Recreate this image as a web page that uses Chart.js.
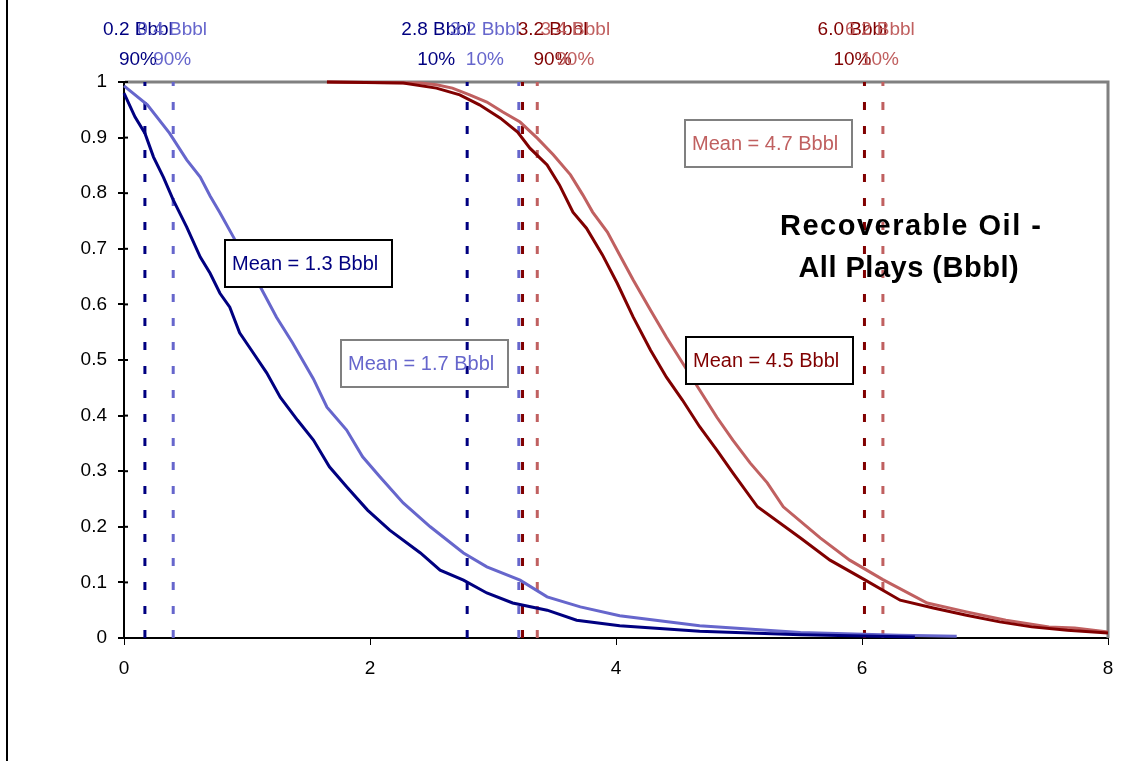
<!DOCTYPE html>
<html>
<head>
<meta charset="utf-8">
<script src="https://cdn.jsdelivr.net/npm/chart.js@4.4.1/dist/chart.umd.min.js"></script>
<style>
  html, body { margin: 0; padding: 0; background: #fff; }
  #wrap { width: 1135px; height: 761px; position: relative; }
</style>
</head>
<body>
<div id="wrap"><canvas id="oilChart"></canvas></div>
<script>
// exceedance curves (x = Bbbl, y = probability)
const darkBlueX = [0, 0.09, 0.17, 0.24, 0.32, 0.40, 0.51, 0.62, 0.70, 0.78, 0.86, 0.94, 1.05, 1.16, 1.27, 1.41, 1.54, 1.67, 1.81, 1.98, 2.16, 2.41, 2.57, 2.76, 2.95, 3.16, 3.44, 3.68, 4.03, 4.68, 5.50, 6.43];
const darkBlueY = [0.98, 0.937, 0.908, 0.865, 0.829, 0.788, 0.739, 0.685, 0.656, 0.62, 0.595, 0.549, 0.513, 0.477, 0.433, 0.392, 0.356, 0.308, 0.272, 0.23, 0.194, 0.153, 0.122, 0.104, 0.081, 0.063, 0.05, 0.032, 0.022, 0.012, 0.006, 0.002];

const lightBlueX = [0, 0.19, 0.37, 0.51, 0.62, 0.70, 0.78, 0.89, 1.11, 1.24, 1.37, 1.54, 1.65, 1.81, 1.94, 2.08, 2.27, 2.49, 2.76, 2.95, 3.22, 3.44, 3.71, 4.03, 4.68, 5.50, 6.30, 6.77];
const lightBlueY = [0.993, 0.959, 0.908, 0.86, 0.829, 0.795, 0.765, 0.721, 0.631, 0.577, 0.531, 0.466, 0.415, 0.374, 0.326, 0.29, 0.243, 0.2, 0.153, 0.128, 0.104, 0.074, 0.056, 0.04, 0.022, 0.01, 0.005, 0.003];

const darkRedX = [1.65, 2.27, 2.54, 2.73, 2.89, 3.06, 3.20, 3.30, 3.44, 3.54, 3.65, 3.76, 3.89, 4.01, 4.14, 4.28, 4.41, 4.54, 4.68, 4.82, 4.95, 5.15, 5.50, 5.74, 6.02, 6.31, 6.58, 6.85, 7.12, 7.38, 7.67, 8.0];
const darkRedY = [1.0, 0.998, 0.989, 0.977, 0.959, 0.935, 0.91, 0.881, 0.851, 0.815, 0.766, 0.737, 0.689, 0.638, 0.577, 0.518, 0.469, 0.428, 0.38, 0.338, 0.297, 0.236, 0.18, 0.14, 0.105, 0.068, 0.054, 0.041, 0.029, 0.02, 0.014, 0.009];

const lightRedX = [1.65, 2.41, 2.54, 2.67, 2.81, 2.95, 3.08, 3.22, 3.36, 3.49, 3.63, 3.73, 3.81, 3.93, 4.03, 4.14, 4.28, 4.41, 4.54, 4.68, 4.82, 4.95, 5.09, 5.23, 5.36, 5.66, 5.90, 6.17, 6.53, 6.85, 7.17, 7.52, 7.73, 8.0];
const lightRedY = [1.0, 0.998, 0.995, 0.989, 0.977, 0.964, 0.946, 0.928, 0.899, 0.869, 0.833, 0.797, 0.766, 0.73, 0.689, 0.644, 0.59, 0.541, 0.495, 0.446, 0.397, 0.356, 0.315, 0.279, 0.236, 0.18, 0.14, 0.105, 0.063, 0.047, 0.032, 0.02, 0.018, 0.011];

// order: dark blue, light blue, dark red, light red
const p90Values = [0.17, 0.40, 3.24, 3.36];
const p10Values = [2.79, 3.21, 6.02, 6.17];
const p90Labels = ["0.2 Bbbl", "0.4 Bbbl", "3.2 Bbbl", "3.4 Bbbl"];
const p10Labels = ["2.8 Bbbl", "3.2 Bbbl", "6.0 Bbbl", "6.2 Bbbl"];
const meanLabels = ["Mean = 1.3 Bbbl", "Mean = 1.7 Bbbl", "Mean = 4.5 Bbbl", "Mean = 4.7 Bbbl"];
const titleLines = ["Recoverable Oil -", "All Plays (Bbbl)"];

const xTickLabels = ["0", "2", "4", "6", "8"];
const yTickLabels = ["0", "0.1", "0.2", "0.3", "0.4", "0.5", "0.6", "0.7", "0.8", "0.9", "1"];

const colors = ["#000080", "#6666cc", "#800000", "#c06060"];
const FONT = '"Liberation Sans", Arial, sans-serif';

function pts(xs, ys) {
  return xs.map((x, i) => ({ x: x, y: ys[i] }));
}

const curves = [
  pts(darkBlueX, darkBlueY),
  pts(lightBlueX, lightBlueY),
  pts(darkRedX, darkRedY),
  pts(lightRedX, lightRedY)
];

const datasets = [];
curves.forEach((c, i) => {
  datasets.push({
    data: c, showLine: true, borderColor: colors[i], borderWidth: 3,
    pointRadius: 0, clip: false, tension: 0
  });
});
[p90Values, p10Values].forEach(vals => {
  vals.forEach((v, i) => {
    datasets.push({
      data: [{ x: v, y: 0 }, { x: v, y: 1 }], showLine: true,
      borderColor: colors[i], borderWidth: 3, borderDash: [8, 16],
      pointRadius: 0, clip: false
    });
  });
});

// label placement (pixel shifts / box anchors in data units)
const pctShift90 = [-7, -1, 30, 38];
const pctShift10 = [-31, -34, -12, -3];
const boxAt = [[0.821, 0.716], [1.764, 0.536], [4.569, 0.541], [4.561, 0.932]];
const boxFilled = [true, false, true, false];
const boxEdge = ["#000", "#808080", "#000", "#808080"];

const decor = {
  id: "decor",
  beforeDraw(chart) {
    const ctx = chart.ctx;
    ctx.save();
    ctx.fillStyle = "#fff";
    ctx.fillRect(0, 0, chart.width, chart.height);
    ctx.strokeStyle = "#000";
    ctx.lineWidth = 2;
    ctx.beginPath();
    ctx.moveTo(7, 0);
    ctx.lineTo(7, chart.height);
    ctx.stroke();
    ctx.restore();
  },
  beforeDatasetsDraw(chart) {
    const { ctx, chartArea: a, scales } = chart;
    ctx.save();
    ctx.strokeStyle = "#808080";
    ctx.lineWidth = 3;
    ctx.beginPath();
    ctx.moveTo(a.left + 1, a.top);
    ctx.lineTo(a.right, a.top);
    ctx.lineTo(a.right, a.bottom);
    ctx.stroke();
    ctx.strokeStyle = "#000";
    ctx.lineWidth = 2;
    scales.y.ticks.forEach(t => {
      const y = scales.y.getPixelForValue(t.value);
      ctx.beginPath();
      ctx.moveTo(a.left, y);
      ctx.lineTo(a.left + 4, y);
      ctx.stroke();
    });
    ctx.restore();
  },
  afterDatasetsDraw(chart) {
    const { ctx, chartArea: a, scales } = chart;
    const sx = scales.x, sy = scales.y;
    ctx.save();

    // mean boxes
    meanLabels.forEach((txt, i) => {
      const x = Math.round(sx.getPixelForValue(boxAt[i][0]));
      const y = Math.round(sy.getPixelForValue(boxAt[i][1]));
      if (boxFilled[i]) {
        ctx.fillStyle = "#fff";
        ctx.fillRect(x, y, 167, 47);
      }
      ctx.strokeStyle = boxEdge[i];
      ctx.lineWidth = 2;
      ctx.strokeRect(x, y, 167, 47);
      ctx.fillStyle = colors[i];
      ctx.font = "20px " + FONT;
      ctx.textAlign = "left";
      ctx.textBaseline = "middle";
      ctx.fillText(txt, x + 7, y + 24);
    });

    // percentile labels above the plot
    ctx.font = "19px " + FONT;
    ctx.textAlign = "center";
    ctx.textBaseline = "alphabetic";
    for (let i = 0; i < 4; i++) {
      ctx.fillStyle = colors[i];
      const x90 = sx.getPixelForValue(p90Values[i]) + pctShift90[i];
      ctx.fillText(p90Labels[i], x90, a.top - 47);
      ctx.fillText("90%", x90, a.top - 17);
      const x10 = sx.getPixelForValue(p10Values[i]) + pctShift10[i];
      ctx.fillText(p10Labels[i], x10, a.top - 47);
      ctx.fillText("10%", x10, a.top - 17);
    }

    // title inside plot
    ctx.fillStyle = "#000";
    ctx.font = "bold 29px " + FONT;
    ctx.letterSpacing = "1.5px";
    ctx.fillText(titleLines[0], sx.getPixelForValue(6.40), sy.getPixelForValue(0.725));
    ctx.letterSpacing = "0.5px";
    ctx.fillText(titleLines[1], sx.getPixelForValue(6.38), sy.getPixelForValue(0.649));
    ctx.restore();
  }
};

new Chart(document.getElementById("oilChart"), {
  type: "scatter",
  data: { datasets: datasets },
  plugins: [decor],
  options: {
    responsive: true,
    maintainAspectRatio: false,
    animation: false,
    layout: { padding: { top: 82, right: 27, left: 0, bottom: 0 } },
    plugins: { legend: { display: false }, tooltip: { enabled: false } },
    scales: {
      x: {
        type: "linear", min: 0, max: 8,
        afterFit: s => { s.height = 123; },
        ticks: {
          stepSize: 2, color: "#000", padding: 12,
          font: { family: FONT, size: 19 },
          maxRotation: 0,
          callback: (v, i) => xTickLabels[i]
        },
        grid: { drawOnChartArea: false, drawTicks: true, tickLength: 7, color: "#000", lineWidth: 1 },
        border: { display: true, color: "#000", width: 2 }
      },
      y: {
        type: "linear", min: 0, max: 1,
        afterFit: s => { s.width = 124; },
        ticks: {
          stepSize: 0.1, color: "#000", padding: 11,
          font: { family: FONT, size: 19 },
          callback: (v, i) => yTickLabels[i]
        },
        grid: { drawOnChartArea: false, drawTicks: true, tickLength: 6, color: "#000", lineWidth: 2 },
        border: { display: true, color: "#000", width: 2 }
      }
    }
  }
});
</script>
</body>
</html>
